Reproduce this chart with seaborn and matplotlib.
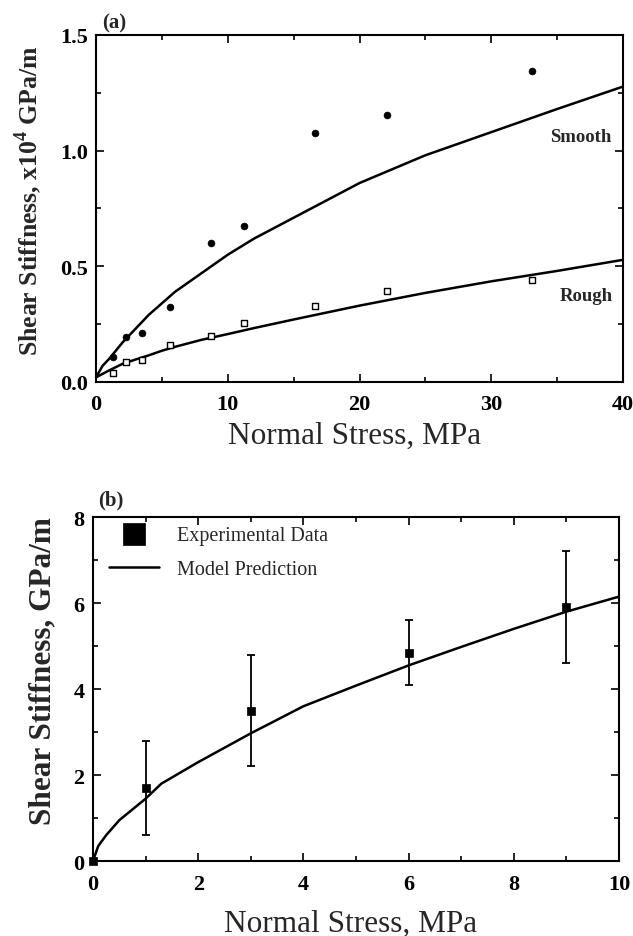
# -*- coding: utf-8 -*-
# shear stiffness vs normal stress, panels (a) and (b)

import matplotlib
matplotlib.use('Agg')
import matplotlib.pyplot as plt
from matplotlib.ticker import MultipleLocator
import seaborn as sns
import pandas as pd


# %% data
# -------

# panel (a): measured points, x10^4 GPa/m
stress_a = [1.3, 2.3, 3.5, 5.6, 8.7, 11.2, 16.6, 22.1, 33.1]
smooth_pts = [0.108, 0.195, 0.211, 0.323, 0.599, 0.674, 1.075, 1.156, 1.345]
rough_pts = [0.039, 0.085, 0.095, 0.158, 0.197, 0.253, 0.330, 0.393, 0.441]

# panel (a): model curves
curve_x_a = [0, 0.5, 1, 2, 3, 4, 5, 6, 8, 10, 12, 15, 20, 25, 30, 35, 40]
smooth_curve = [0.02, 0.07, 0.10, 0.17, 0.23, 0.29, 0.34, 0.39, 0.47, 0.55,
                0.62, 0.71, 0.86, 0.98, 1.08, 1.18, 1.277]
rough_curve = [0.02, 0.035, 0.05, 0.078, 0.097, 0.115, 0.135, 0.152, 0.182,
               0.207, 0.233, 0.27, 0.33, 0.385, 0.435, 0.48, 0.528]

# panel (b): experimental data, GPa/m, with asymmetric bars
stress_b = [0, 1, 3, 6, 9]
stiff_b = [0.0, 1.7, 3.5, 4.85, 5.9]
err_low = [0.0, 0.6, 2.2, 4.1, 4.6]
err_high = [0.0, 2.8, 4.8, 5.6, 7.2]

# panel (b): model prediction
curve_x_b = [0, 0.1, 0.25, 0.5, 1, 1.3, 2, 3, 4, 5, 6, 7, 8, 9, 10]
model_b = [0.0, 0.35, 0.6, 0.95, 1.45, 1.8, 2.3, 2.97, 3.6, 4.08, 4.55,
           4.98, 5.4, 5.8, 6.15]

df_pts = pd.DataFrame({'x': stress_a + stress_a,
                       'y': smooth_pts + rough_pts,
                       'surface': ['Smooth'] * len(stress_a) +
                                  ['Rough'] * len(stress_a)})
df_curve = pd.DataFrame({'x': curve_x_a + curve_x_a,
                         'y': smooth_curve + rough_curve,
                         'surface': ['Smooth'] * len(curve_x_a) +
                                    ['Rough'] * len(curve_x_a)})


# %% style
# --------

sns.set_theme(style='ticks')
plt.rcParams['font.family'] = ['Liberation Serif', 'DejaVu Serif']
plt.rcParams['mathtext.fontset'] = 'custom'
plt.rcParams['mathtext.rm'] = 'Liberation Serif'
plt.rcParams['mathtext.bf'] = 'Liberation Serif:bold'

fig = plt.figure(figsize=(6.33, 9.37), dpi=100)
ax1 = fig.add_axes([0.1517, 0.5913, 0.8326, 0.3703])
ax2 = fig.add_axes([0.1469, 0.0800, 0.8310, 0.3671])


def style_axes(ax):
    for sp in ax.spines.values():
        sp.set_linewidth(1.5)
        sp.set_color('black')
    ax.tick_params(which='both', direction='in', top=True, right=True,
                   colors='black', width=1.2)
    ax.tick_params(which='major', length=6, labelsize=16)
    ax.tick_params(which='minor', length=3.5)
    ax.tick_params(axis='x', which='major', pad=9)
    ax.tick_params(axis='y', which='major', pad=6)
    for lab in ax.get_xticklabels() + ax.get_yticklabels():
        lab.set_fontweight('bold')


# %% panel (a)
# ------------

sns.lineplot(data=df_curve, x='x', y='y', units='surface', estimator=None,
             color='black', lw=1.8, ax=ax1)
sns.scatterplot(data=df_pts[df_pts.surface == 'Smooth'], x='x', y='y',
                color='black', marker='o', s=25, edgecolor='black', ax=ax1,
                zorder=4)
sns.scatterplot(data=df_pts[df_pts.surface == 'Rough'], x='x', y='y',
                facecolor='white', marker='s', s=22, edgecolor='black',
                linewidth=1.0, ax=ax1, zorder=4)

ax1.set_xlim(0, 40)
ax1.set_ylim(0, 1.5)
ax1.xaxis.set_major_locator(MultipleLocator(10))
ax1.xaxis.set_minor_locator(MultipleLocator(5))
ax1.yaxis.set_major_locator(MultipleLocator(0.5))
ax1.yaxis.set_minor_locator(MultipleLocator(0.25))
ax1.yaxis.set_major_formatter(plt.FormatStrFormatter('%.1f'))
style_axes(ax1)

ax1.set_xlabel('Normal Stress, MPa', fontsize=22.5)
ax1.xaxis.set_label_coords(0.49, -0.112)
ax1.set_ylabel(r'Shear Stiffness, x10$^{\mathbf{4}}$ GPa/m', fontsize=18.5,
               fontweight='bold')
ax1.yaxis.set_label_coords(-0.098, 0.524)
ax1.text(36.8, 1.063, 'Smooth', fontsize=13.5, fontweight='bold',
         ha='center', va='center')
ax1.text(37.2, 0.372, 'Rough', fontsize=13.5, fontweight='bold',
         ha='center', va='center')
ax1.text(0.011, 1.008, '(a)', transform=ax1.transAxes, fontsize=15,
         fontweight='bold', ha='left', va='bottom')


# %% panel (b)
# ------------

sns.lineplot(x=curve_x_b, y=model_b, color='black', lw=1.8, ax=ax2,
             label='Model Prediction')
yerr = [[s - lo for s, lo in zip(stiff_b, err_low)],
        [hi - s for s, hi in zip(stiff_b, err_high)]]
ax2.errorbar(stress_b, stiff_b, yerr=yerr, fmt='none', ecolor='black',
             elinewidth=1.3, capsize=3, capthick=1.3)
sns.scatterplot(x=stress_b, y=stiff_b, color='black', marker='s', s=40,
                edgecolor='black', ax=ax2, label='Experimental Data',
                clip_on=False, zorder=5)

ax2.set_xlim(0, 10)
ax2.set_ylim(0, 8)
ax2.xaxis.set_major_locator(MultipleLocator(2))
ax2.xaxis.set_minor_locator(MultipleLocator(1))
ax2.yaxis.set_major_locator(MultipleLocator(2))
ax2.yaxis.set_minor_locator(MultipleLocator(1))
style_axes(ax2)

ax2.set_xlabel('Normal Stress, MPa', fontsize=22.5)
ax2.xaxis.set_label_coords(0.49, -0.138)
ax2.set_ylabel('Shear Stiffness, GPa/m', fontsize=22.5, fontweight='bold')
ax2.yaxis.set_label_coords(-0.068, 0.555)
ax2.text(0.010, 1.022, '(b)', transform=ax2.transAxes, fontsize=15,
         fontweight='bold', ha='left', va='bottom')

handles, labels = ax2.get_legend_handles_labels()
order = [labels.index('Experimental Data'), labels.index('Model Prediction')]
leg = ax2.legend([handles[i] for i in order], [labels[i] for i in order],
                 loc='upper left', bbox_to_anchor=(0.030, 0.975),
                 frameon=False, fontsize=14.5, markerscale=2.4,
                 handlelength=2.5, handletextpad=0.9, labelspacing=0.75,
                 borderpad=0, borderaxespad=0)

fig.savefig('out.png', dpi=100)
